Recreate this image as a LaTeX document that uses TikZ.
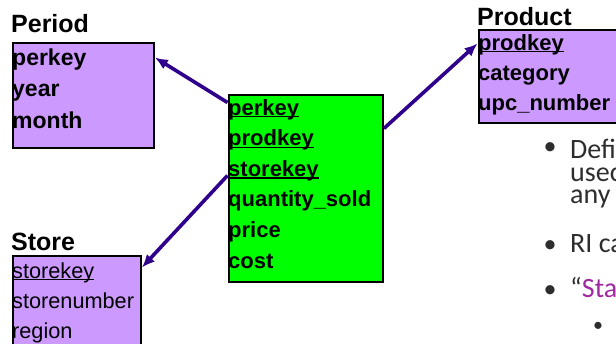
\documentclass[tikz,border=0pt]{standalone}
\usepackage{fontspec}
\setmainfont{Liberation Sans}
\newfontfamily\notefont{Carlito}
\usetikzlibrary{arrows.meta,calc}
\definecolor{TableLilac}{RGB}{204,153,255}
\definecolor{FactGreen}{RGB}{0,255,0}
\definecolor{LinkIndigo}{RGB}{46,0,140}
\definecolor{NoteGrey}{RGB}{45,45,45}
\definecolor{NotePurple}{RGB}{160,40,160}
% key columns get a line under them
\newcommand{\keyfield}[1]{\sbox0{#1}\rlap{\rule[-2.4pt]{\wd0}{1.3pt}}#1}
\tikzset{
  tablebox/.style={draw=black,line width=2.4pt,fill=TableLilac,
    anchor=north west,inner sep=0pt},
  factbox/.style={tablebox,fill=FactGreen},
  title/.style={anchor=base west,inner sep=0pt,
    font=\bfseries\fontsize{25}{30}\selectfont},
  field/.style={anchor=base west,inner sep=0pt,
    font=\bfseries\fontsize{22}{26}\selectfont},
  plainfield/.style={field,font=\fontsize{21.7}{26}\selectfont},
  note/.style={anchor=base west,inner sep=0pt,text=NoteGrey,
    font=\notefont\fontsize{28}{30}\selectfont},
  link/.style={-{Latex[length=13pt,width=11pt]},line width=3.6pt,LinkIndigo}
}

\begin{document}
\begin{tikzpicture}[x=1pt,y=-1pt]
\clip (0,0) rectangle (616,343);

% Period
\node[tablebox,minimum width=141pt,minimum height=105pt] (period) at (11.5,41.5) {};
\node[title] (period-title) at (11,32) {Period};
\foreach \f [count=\i] in {perkey,year,month}
  \node[field,font=\bfseries\fontsize{23}{26}\selectfont] (period-\i) at (12,{65+31.5*(\i-1)}) {\f};

% Store
\node[tablebox,minimum width=128pt,minimum height=110pt] (store) at (11.5,254.5) {};
\node[title] (store-title) at (11,250) {Store};
\foreach \f [count=\i] in {\keyfield{storekey},storenumber,region}
  \node[plainfield] (store-\i) at (12,{278+30*(\i-1)}) {\f};

% Product
\node[tablebox,minimum width=170pt,minimum height=93pt] (product) at (477.5,28.5) {};
\node[title] (product-title) at (477,25) {Product};
\foreach \f [count=\i] in {\keyfield{prodkey},category,upc\_number}
  \node[field] (product-\i) at (478,{50+30*(\i-1)}) {\f};

% Sales fact table
\node[factbox,minimum width=154pt,minimum height=187pt] (fact) at (227.5,93.5) {};
\foreach \f [count=\i] in {\keyfield{perkey},\keyfield{prodkey},\keyfield{storekey},
    quantity\_sold,price,cost}
  \node[field] (fact-\i) at (228,{115+30.6*(\i-1)}) {\f};

% foreign keys
\draw[link] ($(fact.north west)+(0,9)$) -- ($(period.north east)+(0,16)$);
\draw[link] ($(fact.north west)+(0,82)$) -- ($(store.north east)+(0,13)$);
\draw[link] ($(fact.north east)+(0,35)$) -- ($(product.north west)+(0,15)$);

% bullet notes
\node[note,font=\notefont\fontsize{26}{30}\selectfont] (dot-1) at (543.5,154.5) {•};
\node[note] (note-1) at (570,158) {Defi};
\node[note] (note-2) at (570,181) {usec};
\node[note] (note-3) at (570,203) {any};
\node[note,font=\notefont\fontsize{26}{30}\selectfont] (dot-2) at (543.5,252.5) {•};
\node[note] (note-4) at (570,252) {RI ca};
\node[note,font=\notefont\fontsize{26}{30}\selectfont] (dot-3) at (543.5,297.5) {•};
\node[note] (note-5) at (570,297) {“\textcolor{NotePurple}{Sta}};
\node[note,font=\notefont\fontsize{20}{24}\selectfont] (dot-4) at (593,331) {•};

\end{tikzpicture}
\end{document}
